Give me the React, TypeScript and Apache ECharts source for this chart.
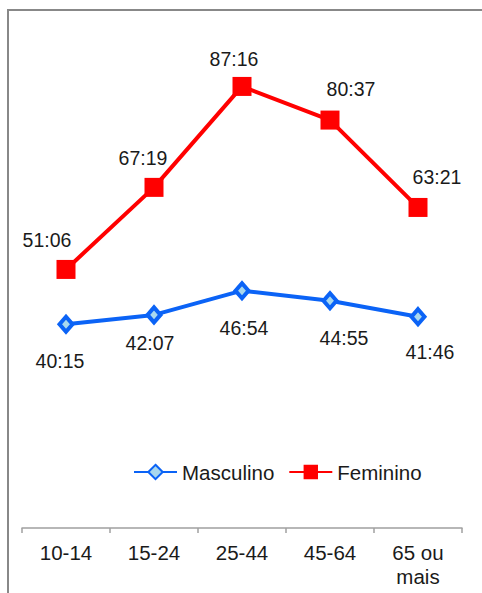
import React, { useEffect, useRef } from "react";
import * as echarts from "echarts";

const categories = ["10-14", "15-24", "25-44", "45-64", "65 ou\nmais"];
const masculinoTimes = ["40:15", "42:07", "46:54", "44:55", "41:46"];
const femininoTimes = ["51:06", "67:19", "87:16", "80:37", "63:21"];

// label placement (layout only)
const masculinoLabelOffsets = [[-6, 37], [-4, 28], [2, 37], [14, 37], [12, 35]];
const femininoLabelOffsets = [[-19, -29], [-11, -29], [-8, -27], [21, -31], [19, -30]];

const toMinutes = (s: string) => {
  const [m, sec] = s.split(":").map(Number);
  return m + sec / 60;
};

const FONT = "'Liberation Sans', Arial, sans-serif";

export default function App() {
  const ref = useRef<HTMLDivElement>(null);
  useEffect(() => {
    if (!ref.current) return;
    const chart = echarts.init(ref.current, undefined, { renderer: "svg" });
    const mkData = (times: string[], offs: number[][]) =>
      times.map((t, i) => ({
        value: toMinutes(t),
        label: { offset: offs[i], formatter: t },
      }));
    chart.setOption({
      animation: false,
      backgroundColor: "#ffffff",
      textStyle: { fontFamily: FONT },
      graphic: [
        {
          type: "rect",
          shape: { x: 8, y: 10, width: 520, height: 620 },
          style: { fill: "none", stroke: "#888888", lineWidth: 2 },
          silent: true,
        },
      ],
      grid: { left: 22, right: 20, top: 22, bottom: 65 },
      legend: {
        left: 133,
        top: 460,
        padding: 0,
        itemWidth: 43,
        itemHeight: 18,
        itemGap: 14,
        textStyle: { fontSize: 20.5, color: "#1a1a1a", fontFamily: FONT, lineHeight: 24 },
        data: ["Masculino", "Feminino"],
      },
      xAxis: {
        type: "category",
        data: categories,
        boundaryGap: true,
        axisLine: { lineStyle: { color: "#a0a0a0", width: 1.5 } },
        axisTick: { show: true, length: 5, lineStyle: { color: "#a0a0a0", width: 1.5 } },
        axisLabel: {
          fontSize: 20.5,
          color: "#1a1a1a",
          fontFamily: FONT,
          margin: 12,
          lineHeight: 24,
          interval: 0,
        },
      },
      yAxis: {
        type: "value",
        min: 0,
        max: 100,
        show: false,
        splitLine: { show: false },
      },
      series: [
        {
          name: "Masculino",
          type: "line",
          data: mkData(masculinoTimes, masculinoLabelOffsets),
          symbol: "diamond",
          symbolSize: [13, 15],
          lineStyle: { color: "#0b63f6", width: 4 },
          itemStyle: { color: "#a9d8ee", borderColor: "#0b63f6", borderWidth: 4 },
          label: {
            show: true,
            position: "inside",
            fontSize: 19.5,
            color: "#1a1a1a",
            fontFamily: FONT,
          },
          z: 2,
        },
        {
          name: "Feminino",
          type: "line",
          data: mkData(femininoTimes, femininoLabelOffsets),
          symbol: "rect",
          symbolSize: 19,
          lineStyle: { color: "#ff0000", width: 4 },
          itemStyle: { color: "#ff0000", borderColor: "#ff0000", borderWidth: 0 },
          label: {
            show: true,
            position: "inside",
            fontSize: 19.5,
            color: "#1a1a1a",
            fontFamily: FONT,
          },
          z: 3,
        },
      ],
    });
    return () => chart.dispose();
  }, []);
  return (
    <div
      ref={ref}
      style={{ position: "fixed", left: 0, top: 0, width: 482, height: 593, background: "#fff" }}
    />
  );
}
